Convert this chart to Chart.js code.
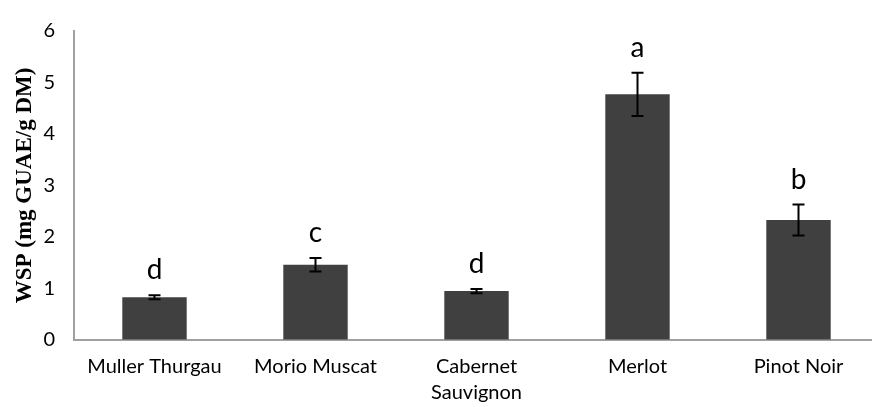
<!DOCTYPE html>
<html>
<head>
<meta charset="utf-8">
<script src="https://cdn.jsdelivr.net/npm/chart.js@4/dist/chart.umd.min.js"></script>
<style>
  html, body { margin: 0; padding: 0; background: #fff; overflow: hidden; }
  #wrap { width: 872px; height: 407px; overflow: hidden; }
  canvas { display: block; }
</style>
</head>
<body>
<div id="wrap"><canvas id="c" width="879" height="407"></canvas></div>
<script>
// Cultivars on the x axis
const categories = ['Muller Thurgau', 'Morio Muscat', ['Cabernet', 'Sauvignon'], 'Merlot', 'Pinot Noir'];
// Mean WSP content (mg GUAE/g DM)
const values = [0.83, 1.46, 0.95, 4.77, 2.33];
// Standard deviations shown as error bars
const errors = [0.04, 0.13, 0.04, 0.42, 0.30];
// Significance groups
const groups = ['d', 'c', 'd', 'a', 'b'];
// Y-axis range and step
const yMin = 0, yMax = 6, yStep = 1;

const tickFont = "Lato, 'Noto Sans', sans-serif";

const errorBarsAndLetters = {
  id: 'errorBarsAndLetters',
  afterDatasetsDraw(chart) {
    const ctx = chart.ctx;
    const meta = chart.getDatasetMeta(0);
    const y = chart.scales.y;
    ctx.save();
    meta.data.forEach((bar, i) => {
      const x = bar.x;
      const hi = y.getPixelForValue(values[i] + errors[i]);
      const lo = y.getPixelForValue(values[i] - errors[i]);
      ctx.strokeStyle = '#000';
      ctx.lineWidth = 2;
      ctx.beginPath();
      ctx.moveTo(x, hi); ctx.lineTo(x, lo);
      ctx.moveTo(x - 6, hi); ctx.lineTo(x + 6, hi);
      ctx.moveTo(x - 6, lo); ctx.lineTo(x + 6, lo);
      ctx.stroke();
      ctx.fillStyle = '#000';
      ctx.font = '28px ' + tickFont;
      ctx.textAlign = 'center';
      ctx.textBaseline = 'alphabetic';
      ctx.fillText(groups[i], x, hi - 16);
    });
    ctx.restore();
  }
};

new Chart(document.getElementById('c'), {
  type: 'bar',
  data: {
    labels: categories,
    datasets: [{
      data: values,
      backgroundColor: '#404040',
      borderWidth: 0,
      barPercentage: 0.4,
      categoryPercentage: 1.0
    }]
  },
  options: {
    responsive: false,
    animation: false,
    devicePixelRatio: 1,
    layout: { padding: { top: 20, right: 0, bottom: 0, left: 0 } },
    plugins: { legend: { display: false }, tooltip: { enabled: false } },
    scales: {
      x: {
        grid: { display: true, color: 'rgba(0,0,0,0)', drawTicks: false },
        border: { display: true, color: '#a0a0a0', width: 2 },
        ticks: {
          color: '#000',
          font: { family: tickFont, size: 20, lineHeight: 1.3 },
          padding: 14,
          maxRotation: 0,
          autoSkip: false
        },
        afterFit(scale) { scale.height = 67; }
      },
      y: {
        min: yMin,
        max: yMax,
        grid: { display: true, color: 'rgba(0,0,0,0)', drawTicks: false },
        border: { display: true, color: '#a0a0a0', width: 2 },
        ticks: {
          stepSize: yStep,
          color: '#000',
          font: { family: tickFont, size: 20 },
          padding: 19
        },
        title: {
          display: true,
          text: 'WSP (mg GUAE/g DM)',
          color: '#000',
          font: { family: "'Liberation Serif', 'DejaVu Serif', serif", size: 23, weight: 'bold' },
          padding: { top: 11, bottom: 0 }
        },
        afterFit(scale) { scale.width = 74; }
      }
    }
  },
  plugins: [errorBarsAndLetters]
});
</script>
</body>
</html>
